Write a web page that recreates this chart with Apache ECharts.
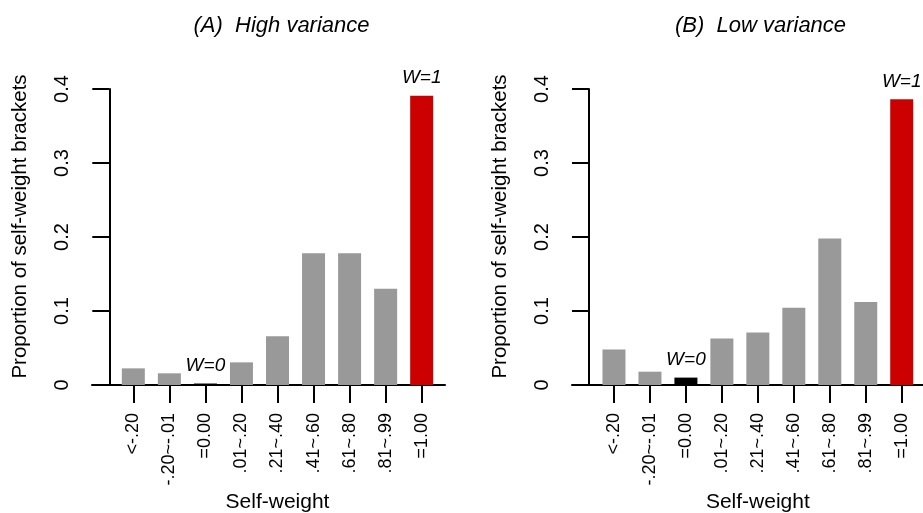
<!DOCTYPE html>
<html>
<head>
<meta charset="utf-8">
<script src="https://cdn.jsdelivr.net/npm/echarts@6/dist/echarts.min.js"></script>
<style>
  html, body { margin: 0; padding: 0; background: #ffffff; }
  #chart { width: 923px; height: 513px; }
</style>
</head>
<body>
<div id="chart"></div>
<script>
// Self-weight brackets shown on the x axis of both panels
const brackets = ['<-.20', '-.20~-.01', '=0.00', '.01~.20', '.21~.40', '.41~.60', '.61~.80', '.81~.99', '=1.00'];

// Proportion of self-weights in each bracket
const highVariance = [0.0225, 0.0158, 0.002, 0.0306, 0.066, 0.178, 0.178, 0.130, 0.391];
const lowVariance  = [0.048, 0.018, 0.010, 0.063, 0.071, 0.1045, 0.198, 0.112, 0.386];

// Y axis range and step
const yMin = 0;
const yMax = 0.4;
const yStep = 0.1;

const panelTitles = ['(A)  High variance', '(B)  Low variance'];
const xName = 'Self-weight';
const yName = 'Proportion of self-weight brackets';

// Brackets that carry a text marker above the bar
const markerText = { 2: 'W=0', 8: 'W=1' };

const FONT = '"Liberation Sans", Arial, Helvetica, sans-serif';
const GRAY = '#999999';
const RED = '#CC0000';
const BLACK = '#000000';

function barColor(i) {
  if (i === 8) return RED;
  if (i === 2) return BLACK;
  return GRAY;
}

function barData(values) {
  return values.map((v, i) => ({
    value: v,
    itemStyle: { color: barColor(i) },
    label: markerText[i] ? {
      show: true,
      position: 'top',
      distance: 8,
      formatter: markerText[i],
      fontFamily: FONT,
      fontStyle: 'italic',
      fontSize: 19,
      color: BLACK
    } : { show: false }
  }));
}

// Layout of the two panels: bar area + wider baseline frame
const panels = [
  { barLeft: 115.3, barWidth: 324.4, frameLeft: 92, axisOffset: 6, titleX: 276.5 },
  { barLeft: 596.0, barWidth: 323.7, frameLeft: 572, axisOffset: 7, titleX: 755.5 }
];
const TOP = 89;
const HEIGHT = 296;
const FRAME_WIDTH = 353;

const grids = [];
const xAxes = [];
const yAxes = [];
const titles = [];
const series = [];

panels.forEach((p, k) => {
  const values = k === 0 ? highVariance : lowVariance;
  const gMain = grids.length;
  grids.push({ left: p.barLeft, width: p.barWidth, top: TOP, height: HEIGHT, containLabel: false, outerBoundsMode: 'none' });
  const gFrame = grids.length;
  grids.push({ left: p.frameLeft, width: FRAME_WIDTH, top: TOP, height: HEIGHT, containLabel: false, outerBoundsMode: 'none' });

  // category axis carrying ticks, labels and name
  xAxes.push({
    type: 'category',
    gridIndex: gMain,
    data: brackets,
    axisLine: { show: true, lineStyle: { color: BLACK, width: 2 } },
    axisTick: { show: true, alignWithLabel: true, length: 18, lineStyle: { color: BLACK, width: 2 } },
    axisLabel: {
      interval: 0, rotate: 90, margin: 28,
      fontFamily: FONT, fontSize: 18, color: BLACK
    },
    name: xName,
    nameLocation: 'middle',
    nameGap: 107,
    nameMoveOverlap: false,
    nameTextStyle: { fontFamily: FONT, fontSize: 21, color: BLACK }
  });
  // baseline spanning the full plot region
  xAxes.push({
    type: 'value',
    gridIndex: gFrame,
    min: 0, max: 1,
    axisLine: { show: true, lineStyle: { color: BLACK, width: 2 } },
    axisTick: { show: false },
    axisLabel: { show: false },
    splitLine: { show: false }
  });

  yAxes.push({
    type: 'value',
    gridIndex: gMain,
    min: yMin, max: yMax, interval: yStep,
    offset: p.axisOffset,
    axisLine: { show: true, lineStyle: { color: BLACK, width: 2 } },
    axisTick: { show: true, length: 17, lineStyle: { color: BLACK, width: 2 } },
    splitLine: { show: false },
    axisLabel: {
      rotate: 90, margin: 37,
      fontFamily: FONT, fontSize: 20, color: BLACK,
      formatter: v => (v === 0 ? '0' : v.toFixed(1))
    },
    name: yName,
    nameLocation: 'middle',
    nameGap: 78,
    nameRotate: 90,
    nameMoveOverlap: false,
    nameTextStyle: { fontFamily: FONT, fontSize: 20.5, color: BLACK, padding: [0, 0, 0, 21] }
  });
  yAxes.push({ type: 'value', gridIndex: gFrame, show: false, min: 0, max: 1 });

  titles.push({
    text: panelTitles[k],
    left: p.titleX,
    textAlign: 'center',
    top: 10,
    textStyle: { fontFamily: FONT, fontSize: 22, fontStyle: 'italic', fontWeight: 'normal', color: BLACK }
  });

  series.push({
    type: 'bar',
    xAxisIndex: gMain,
    yAxisIndex: gMain,
    barWidth: 23,
    data: barData(values)
  });
});

const chart = echarts.init(document.getElementById('chart'), null, { renderer: 'canvas' });
chart.setOption({
  animation: false,
  backgroundColor: '#ffffff',
  title: titles,
  grid: grids,
  xAxis: xAxes,
  yAxis: yAxes,
  series: series
});
</script>
</body>
</html>
